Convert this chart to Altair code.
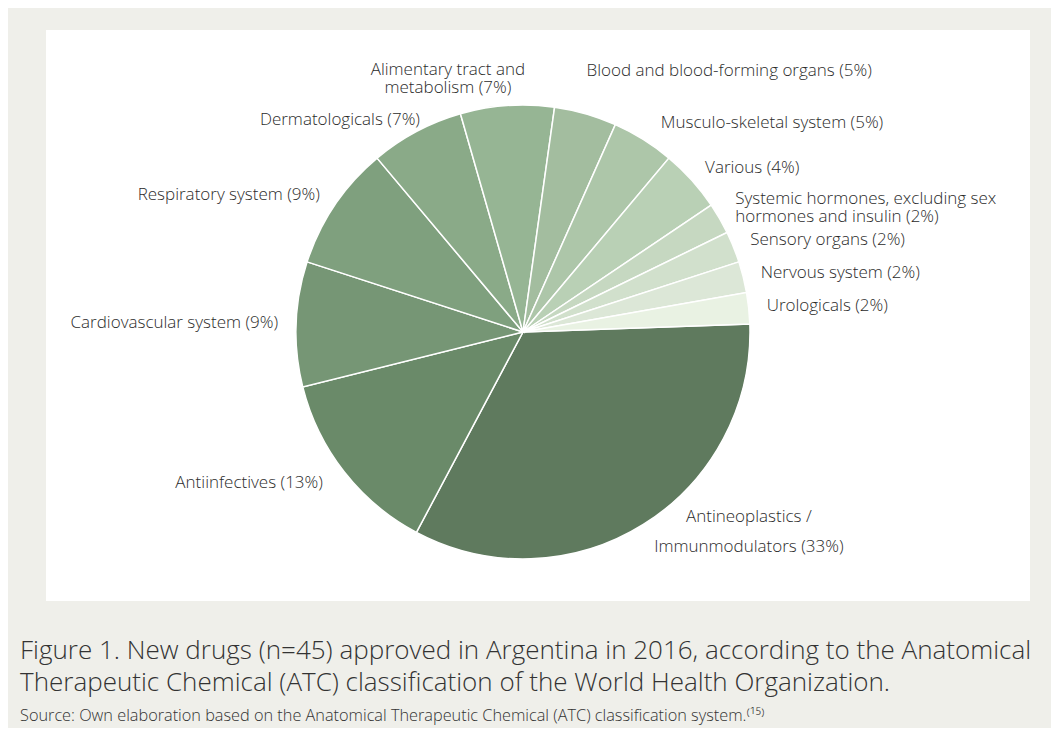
import math
import altair as alt
import pandas as pd

# ---- data ----
categories = [
    "Antineoplastics / Immunmodulators",
    "Antiinfectives",
    "Cardiovascular system",
    "Respiratory system",
    "Dermatologicals",
    "Alimentary tract and metabolism",
    "Blood and blood-forming organs",
    "Musculo-skeletal system",
    "Various",
    "Systemic hormones, excluding sex hormones and insulin",
    "Sensory organs",
    "Nervous system",
    "Urologicals",
]
counts = [15, 6, 4, 4, 3, 3, 2, 2, 2, 1, 1, 1, 1]
labels = [
    "Antineoplastics  /\nImmunmodulators (33%)",
    "Antiinfectives (13%)",
    "Cardiovascular system (9%)",
    "Respiratory system (9%)",
    "Dermatologicals (7%)",
    "Alimentary tract and\nmetabolism (7%)",
    "Blood and blood-forming organs (5%)",
    "Musculo-skeletal system (5%)",
    "Various (4%)",
    "Systemic hormones, excluding sex\n\u00a0\u00a0hormones and insulin (2%)",
    "Sensory organs (2%)",
    "Nervous system (2%)",
    "Urologicals (2%)",
]
colors = [
    "#5f7a5e", "#6a8a69", "#769675", "#7fa07e", "#8aaa88", "#96b594",
    "#a3bd9f", "#adc6a9", "#b9d0b5", "#c6d8c1", "#d1e0cc", "#dce7d7", "#e9f2e3",
]

total = sum(counts)
start_deg = 88
df = pd.DataFrame({"cat": categories, "n": counts, "label": labels})
df["end"] = df["n"].cumsum()
df["start"] = df["end"] - df["n"]
df["mid"] = (df["start"] + df["end"]) / 2
df["side"] = [
    "right" if ((start_deg + m * 360 / total) % 360) < 180 else "left" for m in df["mid"]
]

offset = math.radians(start_deg)
theta_scale = alt.Scale(domain=[0, total], range=[offset, offset + 2 * math.pi])

CX, CY, R = 477, 302, 227
FONT = "Open Sans"
TXT = "#2b2b2b"

base = alt.Chart(df)

arcs = base.mark_arc(radius=R, stroke="white", strokeWidth=1.5).encode(
    theta=alt.Theta("start:Q", scale=theta_scale),
    theta2="end:Q",
    color=alt.Color("cat:N", scale=alt.Scale(domain=categories, range=colors), legend=None),
    x=alt.value(CX),
    y=alt.value(CY),
)

def text_layer(filt, align, radius=245, dx=0, dy=0, line_height=18):
    return base.transform_filter(filt).mark_text(
        radius=radius, align=align, baseline="middle", dx=dx, dy=dy,
        font=FONT, fontSize=17, fontWeight=300, color=TXT,
        lineBreak="\n", lineHeight=line_height,
    ).encode(
        theta=alt.Theta("mid:Q", scale=theta_scale),
        text="label:N",
        x=alt.value(CX),
        y=alt.value(CY),
    )

def one(cat):
    return f"datum.cat == '{cat}'"

special = ["Alimentary tract and metabolism", "Blood and blood-forming organs",
           "Antineoplastics / Immunmodulators",
           "Systemic hormones, excluding sex hormones and insulin",
           "Dermatologicals", "Musculo-skeletal system", "Antiinfectives"]
sp = "indexof(" + str(special).replace("'", '"') + ", datum.cat) < 0"

layers = [
    arcs,
    text_layer(f"datum.side == 'right' && {sp}", "left"),
    text_layer(f"datum.side == 'left' && {sp}", "right"),
    text_layer(one("Systemic hormones, excluding sex hormones and insulin"), "left", dy=-11),
    text_layer(one("Alimentary tract and metabolism"), "center", dx=-58, dy=-18),
    text_layer(one("Blood and blood-forming organs"), "left", dx=-4, dy=-25),
    text_layer(one("Dermatologicals"), "right", dx=12, dy=4),
    text_layer(one("Musculo-skeletal system"), "left", dx=8, dy=-1),
    text_layer(one("Antiinfectives"), "right", dx=-7),
    text_layer(one("Antineoplastics / Immunmodulators"), "center", dx=96, dy=-23, line_height=30),
]

chart = alt.layer(*layers).properties(
    width=984,
    height=571,
    background="#efefea",
    padding={"left": 38, "top": 22, "right": 21, "bottom": 127},
    autosize=alt.AutoSizeParams(type="none"),
    title=alt.TitleParams(
        text=[
            "Figure 1. New drugs (n=45) approved in Argentina in 2016, according to the Anatomical",
            "Therapeutic Chemical (ATC) classification of the World Health Organization.",
        ],
        subtitle="Source: Own elaboration based on the Anatomical Therapeutic Chemical (ATC) classification system.⁽¹⁵⁾",
        orient="bottom",
        anchor="start",
        dx=-26,
        offset=37,
        font=FONT,
        fontSize=26,
        fontWeight=300,
        color="#333333",
        lineHeight=32,
        subtitleFont=FONT,
        subtitleFontSize=16.3,
        subtitleFontWeight=300,
        subtitleColor="#333333",
        subtitlePadding=12,
    ),
).configure_view(fill="white", stroke=None)

chart.save("out.html", embed_options={"renderer": "svg", "actions": False})
